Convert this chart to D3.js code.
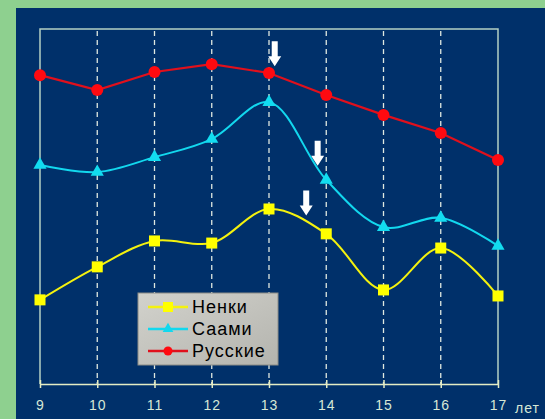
<!DOCTYPE html>
<html>
<head>
<meta charset="utf-8">
<script src="https://cdn.jsdelivr.net/npm/d3@7"></script>
<style>
  html, body { margin: 0; padding: 0; background: #8ed08f; }
  svg { display: block; }
</style>
</head>
<body>
<svg id="chart" width="545" height="419"></svg>
<script>
// Ages (years) along the x axis
const ages = [9, 10, 11, 12, 13, 14, 15, 16, 17];
const tickLabels = ["9", "10", "11", "12", "13", "14", "15", "16", "17"];
const unitLabel = "лет";

// Series values (relative units)
const nenki   = [23.7, 33.0, 40.3, 39.7, 49.3, 42.3, 26.5, 38.3, 24.8];
const saami   = [61.7, 59.7, 63.9, 69.0, 79.4, 57.5, 44.2, 46.8, 38.9];
const russkie = [87.0, 82.8, 87.9, 90.1, 87.6, 81.4, 75.8, 70.7, 63.1];

const seriesNames = ["Ненки", "Саами", "Русские"];

// Growth-spurt markers: age position and the value the arrow points to
const arrowAges   = [13.1, 13.85, 13.65];
const arrowValues = [89.5, 61.5, 47.5];

const svg = d3.select("#chart");
const W = 545, H = 419;

// dark blue panel
svg.append("rect").attr("x", 16).attr("y", 8).attr("width", W - 16).attr("height", H - 8)
  .attr("fill", "#00306a");

const plot = { left: 40, right: 498, top: 29, bottom: 384 };

const x = d3.scaleLinear().domain([9, 17]).range([plot.left, plot.right]);
const y = d3.scaleLinear().domain([0, 100]).range([plot.bottom, plot.top]);

// frame (left, top, right)
svg.append("path")
  .attr("d", `M${plot.left},${plot.bottom}V${plot.top}H${plot.right}V${plot.bottom}`)
  .attr("fill", "none").attr("stroke", "#b4d0c4").attr("stroke-width", 1.5);

// dashed vertical gridlines
svg.append("g").selectAll("line").data(ages.slice(1, -1)).join("line")
  .attr("x1", d => x(d)).attr("x2", d => x(d))
  .attr("y1", plot.top + 2).attr("y2", plot.bottom)
  .attr("stroke", "#dfe8e0").attr("stroke-width", 1.3)
  .attr("stroke-dasharray", "5,4");

// x axis
const xAxis = d3.axisBottom(x).tickValues(ages).tickFormat((d, i) => tickLabels[i])
  .tickSizeInner(4).tickSizeOuter(0).tickPadding(12);
const gx = svg.append("g").attr("transform", `translate(0,${plot.bottom})`).call(xAxis);
gx.select(".domain").attr("stroke", "#e4ecc4").attr("stroke-width", 1.5);
gx.selectAll(".tick line").attr("stroke", "#e4ecc4").attr("stroke-width", 1.5)
  .attr("y1", -4).attr("y2", 4);
gx.selectAll(".tick text").attr("fill", "#d6e8d6")
  .style("font-family", "Arial, 'Liberation Sans', sans-serif").style("font-size", "14px")
  .style("letter-spacing", "1px");

svg.append("text").attr("x", plot.right + 17).attr("y", 413)
  .attr("fill", "#d6e8d6")
  .style("font-family", "Arial, 'Liberation Sans', sans-serif").style("font-size", "14px")
  .style("letter-spacing", "1px")
  .text(unitLabel);

const smooth = d3.line().x((d, i) => x(ages[i])).y(d => y(d)).curve(d3.curveCatmullRom.alpha(0.5));
const straight = d3.line().x((d, i) => x(ages[i])).y(d => y(d));

// Русские: straight segments, round markers
svg.append("path").datum(russkie).attr("d", straight)
  .attr("fill", "none").attr("stroke", "#e0101c").attr("stroke-width", 2.2);
svg.append("g").selectAll("circle").data(russkie).join("circle")
  .attr("cx", (d, i) => x(ages[i])).attr("cy", d => y(d)).attr("r", 6)
  .attr("fill", "#ff0a10");

// Саами: smooth line, triangle markers
svg.append("path").datum(saami).attr("d", smooth)
  .attr("fill", "none").attr("stroke", "#12d8ee").attr("stroke-width", 2);
const tri = d3.symbol().type(d3.symbolTriangle).size(75);
svg.append("g").selectAll("path").data(saami).join("path")
  .attr("d", tri)
  .attr("transform", (d, i) => `translate(${x(ages[i])},${y(d)})`)
  .attr("fill", "#12dcf0");

// Ненки: smooth line, square markers
svg.append("path").datum(nenki).attr("d", smooth)
  .attr("fill", "none").attr("stroke", "#f4f20e").attr("stroke-width", 2);
svg.append("g").selectAll("rect").data(nenki).join("rect")
  .attr("x", (d, i) => x(ages[i]) - 5.5).attr("y", d => y(d) - 5.5)
  .attr("width", 11).attr("height", 11)
  .attr("fill", "#ffff00");

// white down arrows
svg.append("g").selectAll("path").data(arrowAges).join("path")
  .attr("transform", (d, i) => `translate(${x(d)},${y(arrowValues[i])})`)
  .attr("d", "M0,0 L-6.5,-10 L-3,-10 L-3,-25 L3,-25 L3,-10 L6.5,-10 Z")
  .attr("fill", "#ffffff");

// legend
const lg = svg.append("g").attr("transform", "translate(138,293)");
const defs = svg.append("defs");
const grad = defs.append("linearGradient").attr("id", "lgbg").attr("x1", 0).attr("y1", 0).attr("x2", 1).attr("y2", 1);
grad.append("stop").attr("offset", "0%").attr("stop-color", "#d2d2cc");
grad.append("stop").attr("offset", "100%").attr("stop-color", "#b4b4ae");
lg.append("rect").attr("width", 140).attr("height", 72)
  .attr("fill", "url(#lgbg)").attr("stroke", "#8c8c86").attr("stroke-width", 1);

const legendColors = ["#f4f20e", "#12d8ee", "#e0101c"];
const legendMarker = ["square", "triangle", "circle"];
seriesNames.forEach((name, i) => {
  const cy = 14 + i * 22;
  const row = lg.append("g").attr("transform", `translate(0,${cy})`);
  row.append("line").attr("x1", 10).attr("x2", 50).attr("y1", 0).attr("y2", 0)
    .attr("stroke", legendColors[i]).attr("stroke-width", 2.5);
  if (legendMarker[i] === "square") {
    row.append("rect").attr("x", 25).attr("y", -5).attr("width", 10).attr("height", 10).attr("fill", "#ffff00");
  } else if (legendMarker[i] === "triangle") {
    row.append("path").attr("d", d3.symbol().type(d3.symbolTriangle).size(50)).attr("transform", "translate(30,0)").attr("fill", legendColors[i]);
  } else {
    row.append("circle").attr("cx", 30).attr("cy", 0).attr("r", 4.5).attr("fill", "#ff0a10");
  }
  row.append("text").attr("x", 54).attr("y", 6)
    .attr("fill", "#000")
    .style("font-family", "Arial, 'Liberation Sans', sans-serif").style("font-size", "18px")
    .style("letter-spacing", "1px")
    .text(name);
});
</script>
</body>
</html>
